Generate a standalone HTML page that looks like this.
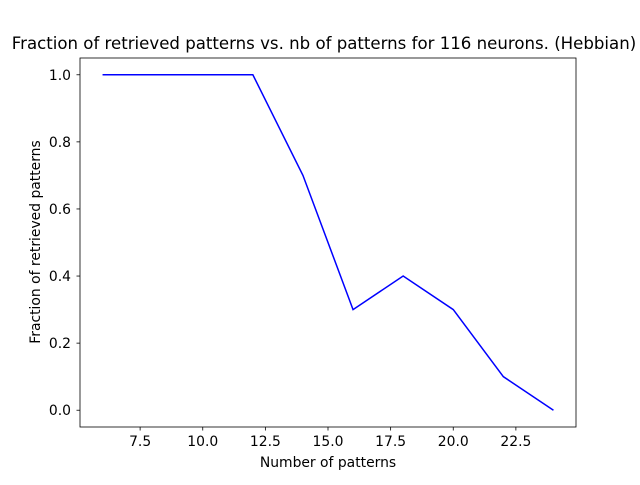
<!DOCTYPE html>
<html><head><meta charset="utf-8"><style>
body{margin:0;background:#fff;}
svg text{font-family:"DejaVu Sans","Liberation Sans",sans-serif;fill:#000;}
</style></head><body>
<svg id="chart" width="640" height="480">
<rect width="640" height="480" fill="#fff"/>
<text x="324" y="49" font-size="16.6" text-anchor="middle">Fraction of retrieved patterns vs. nb of patterns for 116 neurons. (Hebbian)</text>
<g id="axes"></g>
<text x="328" y="467" font-size="13.9" text-anchor="middle">Number of patterns</text>
<text transform="translate(40,242) rotate(-90)" font-size="13.9" text-anchor="middle">Fraction of retrieved patterns</text>
</svg>
<script>
const xValues=[6,8,10,12,14,16,18,20,22,24];
const yValues=[1,1,1,1,0.7,0.3,0.4,0.3,0.1,0.0];
const xTicks=[7.5,10.0,12.5,15.0,17.5,20.0,22.5];
const yTicks=[0.0,0.2,0.4,0.6,0.8,1.0];
const L=80,R=576,T=58,B=427;
const xmin=5.1,xmax=24.9,ymin=-0.05,ymax=1.05;
const sx=v=>L+(v-xmin)/(xmax-xmin)*(R-L);
const sy=v=>B-(v-ymin)/(ymax-ymin)*(B-T);
const ns="http://www.w3.org/2000/svg";
const g=document.getElementById('axes');
function mk(t,a){const e=document.createElementNS(ns,t);for(const k in a)e.setAttribute(k,a[k]);g.appendChild(e);return e;}
xTicks.forEach(v=>{
 const l=mk('line',{x1:sx(v),x2:sx(v),y1:B,y2:B+3.5,stroke:'#000','stroke-width':0.8});
 
 
 const t=mk('text',{x:sx(v),y:B+19,'font-size':13.9,'text-anchor':'middle'});
 t.textContent=v.toFixed(1);
 
 
});
yTicks.forEach(v=>{
 const l=mk('line',{x1:L-3.5,x2:L,y1:sy(v),y2:sy(v),stroke:'#000','stroke-width':0.8});
 
 
 const t=mk('text',{x:L-9,y:sy(v)+5,'font-size':13.9,'text-anchor':'end'});
 t.textContent=v.toFixed(1);
 
 
});
const p=mk('polyline',{points:xValues.map((x,i)=>sx(x)+','+sy(yValues[i])).join(' '),fill:'none',stroke:'#0000ff','stroke-width':1.5});


const f=mk('rect',{x:L,y:T,width:R-L,height:B-T,fill:'none',stroke:'#000','stroke-width':0.8});


</script>
</body></html>
